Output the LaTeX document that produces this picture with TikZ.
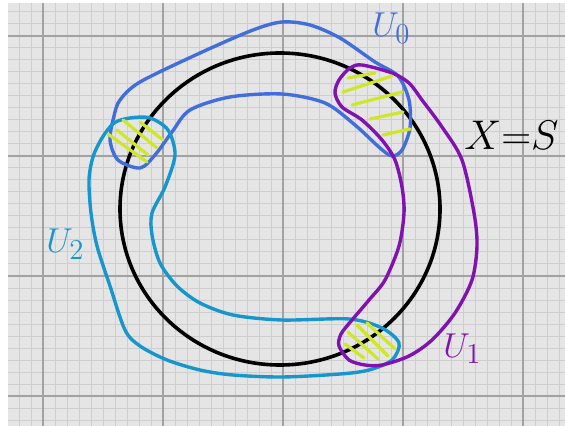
\documentclass[tikz,border=0pt]{standalone}
\usepackage{amsmath}
\usepackage{tikz}
\usepackage{xcolor}
\usetikzlibrary{positioning}
\definecolor{cPaper}{RGB}{229,229,229}
\definecolor{cMinor}{RGB}{206,206,206}
\definecolor{cMajor}{RGB}{162,162,162}
\definecolor{cUzero}{RGB}{66,110,220}
\definecolor{cUone}{RGB}{128,18,176}
\definecolor{cUtwo}{RGB}{22,150,204}
\definecolor{cHatch}{RGB}{208,230,40}
\tikzset{
	minorline/.style={draw=cMinor, line width=0.5pt},
	majorline/.style={draw=cMajor, line width=0.6pt},
	space/.style    ={draw=black, line width=1.8pt},
	cover/.style    ={line width=1.7pt, line join=round},
	hatch/.style    ={draw=cHatch, line width=1.6pt, line cap=round},
	% handwritten labels
	lbl/.style      ={inner sep=0pt, font=\fontsize{19}{22}\selectfont},
}

\begin{document}
\begin{tikzpicture}[x=0.5pt, y=-0.5pt]
			\useasboundingbox (0,0) rectangle (565,426);
			\fill[white] (0,0) rectangle (565,426);
			\fill[cPaper] (8,3) rectangle (565,426);
			% grid paper
			\begin{scope}
				\clip (8,3) rectangle (565,426);
				\foreach \i in {-3,...,43}
					\draw[minorline] ({43+12*\i},3) -- ({43+12*\i},426);
				\foreach \j in {-2,...,32}
					\draw[minorline] (8,{36+12*\j}) -- (565,{36+12*\j});
				\foreach \x in {43,163,283,403,523}
					\draw[majorline] (\x,3) -- (\x,426);
				\foreach \y in {36,156,276,396}
					\draw[majorline] (8,\y) -- (565,\y);
			\end{scope}
			% the space X
			\draw[space] (280,209) ellipse [x radius=160, y radius=156];
			% open sets
			\draw[cover, draw=cUzero] plot[smooth cycle, tension=0.5] coordinates {
				(120,100) (140,82) (200,53) (253,30) (282,22) (310,25) (340,38) (375,62)
				(398,76) (409,100) (410,128) (402,150) (392,156) (380,148) (355,125)
				(325,103) (282,94) (230,97) (190,110) (172,132) (155,155)
				(140,168) (118,160) (110,140) (114,116)};
			\draw[cover, draw=cUtwo] plot[smooth cycle, tension=0.5] coordinates {
				(150,118) (168,130) (175,155) (165,187) (152,213) (152,235) (160,263)
				(177,286) (200,303) (233,315) (282,320) (349,319) (382,328) (399,343)
				(392,360) (369,370) (340,374) (282,377) (233,375) (200,370) (167,360)
				(140,346) (125,330) (110,286) (97,246) (91,213) (89,180) (93,157)
				(102,138) (114,123) (130,118)};
			\draw[cover, draw=cUone] plot[smooth cycle, tension=0.5] coordinates {
				(339,80) (350,68) (362,65) (392,73) (409,83) (422,100) (442,127) (462,160)
				(474,213) (477,246) (472,280) (455,313) (432,340) (409,356) (382,365)
				(365,365) (349,360) (339,346) (341,334) (352,320) (369,300) (385,280)
				(399,246) (404,213) (402,187) (395,160) (382,140) (362,120) (342,107) (335,93)};
			% overlaps
			\foreach \a/\b/\c/\d in {108/134/147/162, 117/130/148/155, 123/120/157/148, 140/122/163/140}
				\draw[hatch] (\a,\b) -- (\c,\d);
			\foreach \a/\b/\c/\d in {348/78/375/73, 343/92/392/76, 352/105/402/92, 370/119/403/112, 383/135/410/129}
				\draw[hatch] (\a,\b) -- (\c,\d);
			\foreach \a/\b/\c/\d in {348/332/378/359, 357/325/388/356, 367/323/395/349, 345/344/364/358}
				\draw[hatch] (\a,\b) -- (\c,\d);
			% labels
			\node[lbl, text=cUzero, anchor=base west] (uzero) at (372,37) {$U_0$};
			\node[lbl, text=cUone, anchor=base west] (uone) at (443,357) {$U_1$};
			\node[lbl, text=cUtwo, anchor=base west] (utwo) at (46,253) {$U_2$};
			\node[lbl, font=\fontsize{22}{26}\selectfont, anchor=base west] (xeq) at (464,150) {$X{=}S$};
		\end{tikzpicture}
\end{document}
